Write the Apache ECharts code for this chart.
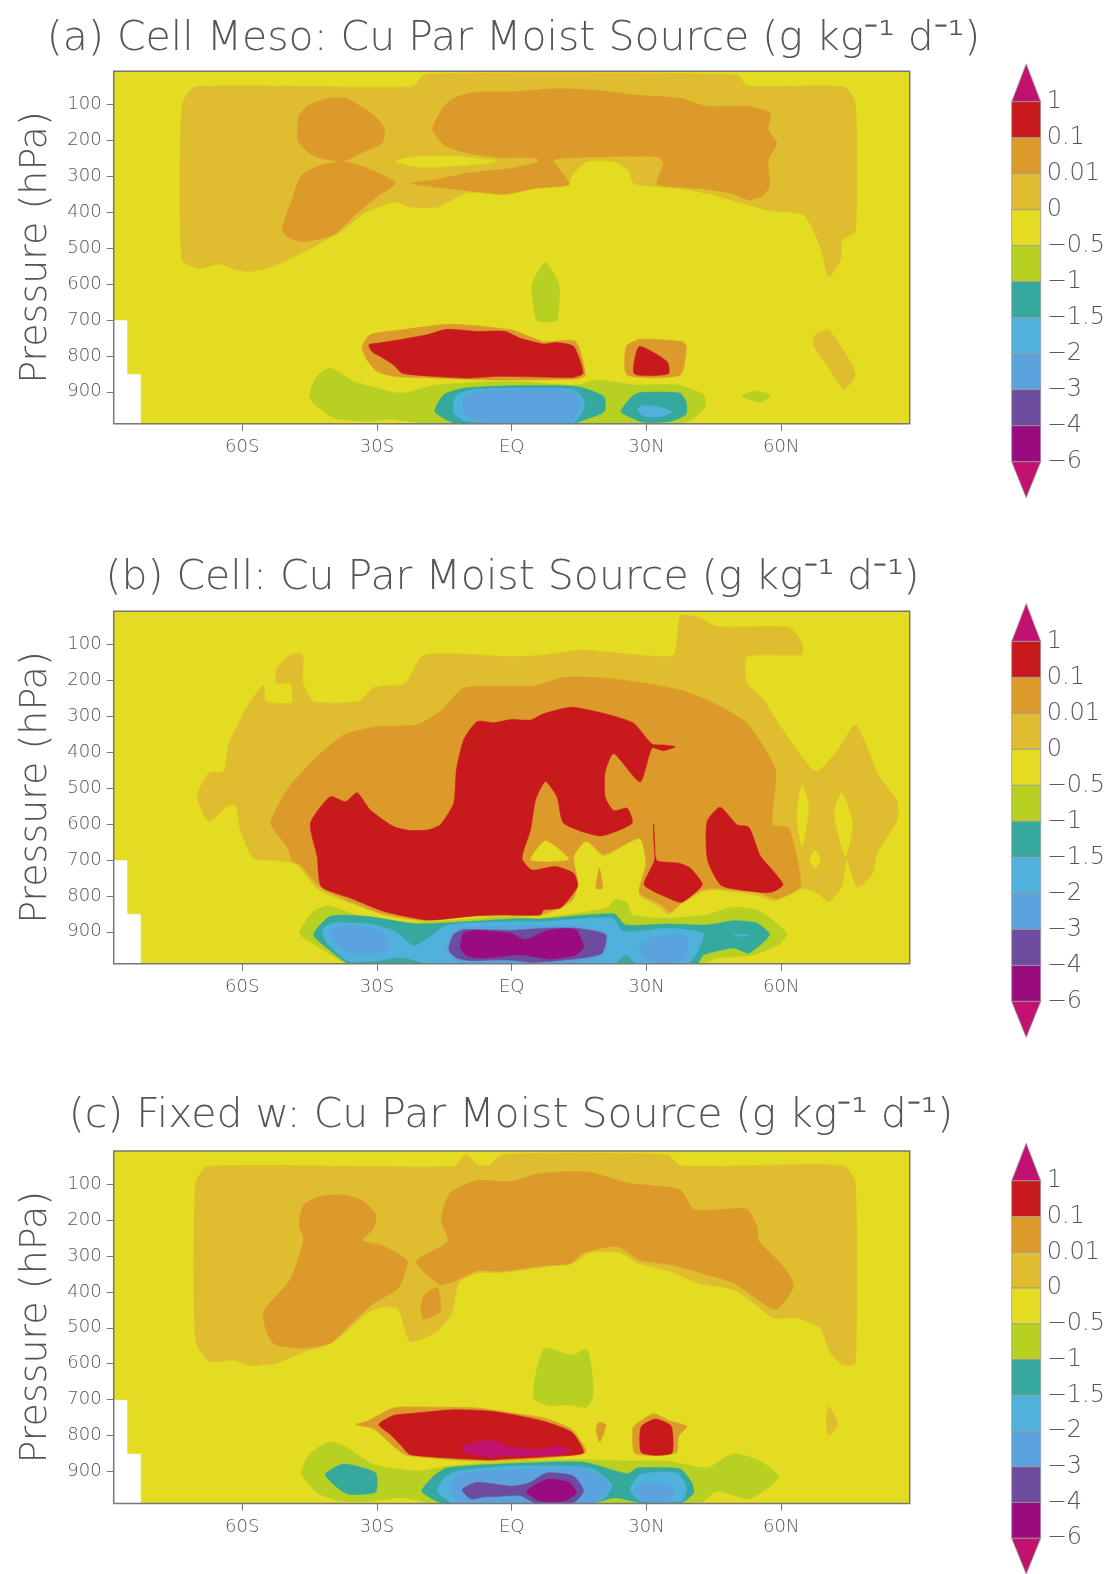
<!DOCTYPE html>
<html><head><meta charset="utf-8">
<style>html,body{margin:0;padding:0;background:#fff}#c{width:1112px;height:1574px;filter:blur(0.5px)}</style>
<script src="https://cdn.jsdelivr.net/npm/echarts@6/dist/echarts.min.js"></script>
</head><body><div id="c"></div>
<script>
// Colour classes, top to bottom of the colour bar
const levelColors = ['#c0126e','#c81a1c','#dc9a2a','#dfbd2e','#e3dc20','#b8d022','#35a99d','#4fb1dc','#5aa3de','#6d4c9f','#990b7e','#c0126e'];
const barLabels = ['1','0.1','0.01','0','\u22120.5','\u22121','\u22121.5','\u22122','\u22123','\u22124','\u22126'];
const latTicks = [-60,-30,0,30,60];
const latLabels = ['60S','30S','EQ','30N','60N'];
const presTicks = [100,200,300,400,500,600,700,800,900];
const titles = ['(a) Cell Meso: Cu Par Moist Source (g kg\u207B\u00B9 d\u207B\u00B9)','(b) Cell: Cu Par Moist Source (g kg\u207B\u00B9 d\u207B\u00B9)','(c) Fixed w: Cu Par Moist Source (g kg\u207B\u00B9 d\u207B\u00B9)'];
const R=1,O=2,L=3,Y=4,G=5,T=6,S=7,B=8,P=9,D=10,H=0;
const domain = [[-88.6,8],[88.6,8],[88.6,989],[-82.5,989],[-82.5,850],[-85.5,850],[-85.5,700],[-88.6,700]];

// Panel (a): contour regions as [lat, hPa]
const a_light = [[-73.4,102],[-70.4,51],[-22.2,51],[-19.2,16],[50.2,18],[52.4,49],[73.9,51],[76.5,97],[76.5,454],[73.5,477],[73.2,533],[70.6,579],[68.7,496],[65,408],[56.8,394],[45,352],[37.5,334],[27.2,320],[26,283],[22.7,259],[16.8,259],[13.4,297],[12.7,324],[4.9,334],[-1.4,352],[-9.9,345],[-16.6,386],[-22.9,385],[-25.9,371],[-32.9,403],[-37.4,449],[-44.1,496],[-51.5,542],[-54.5,556],[-58.5,565],[-62.3,556],[-64.9,544],[-69.7,556],[-73.4,531]];
const a_sliver = [[-25.9,259],[-22.2,247],[-13.7,244],[-3.3,258],[-9.9,269],[-20.3,275]];
const a_lobe1 = [[-47.4,134],[-45.2,102],[-40.7,83],[-37,83],[-32.2,116],[-29.6,144],[-28.3,173],[-28.9,208],[-32.9,232],[-36.3,253],[-38.1,258],[-43.3,247],[-45.9,227],[-47.6,199]];
const a_lobe2 = [[-38.1,259],[-36.3,262],[-32.2,278],[-25.9,318],[-30,357],[-35.2,412],[-39.6,463],[-46.3,482],[-49.3,473],[-51.1,449],[-48.9,366],[-47,301],[-43.3,273]];
const a_upper = [[-17.6,167],[-15.1,106],[-12.9,83],[-8.5,67],[0,65],[8.6,57],[15.3,58],[22,65],[27.2,74],[37.5,83],[43.5,106],[52.4,105],[57.6,125],[57.1,171],[59,208],[57.1,255],[57.4,324],[56.1,352],[52.8,366],[48.7,347],[42,334],[32.4,322],[33.8,264],[32.4,246],[19.7,246],[9.3,255],[11.9,301],[12.7,324],[4.9,334],[-1.4,349],[-7.7,343],[-17.4,329],[-22.2,320],[-16.6,309],[-9.9,292],[0,278],[1.9,273],[6,259],[5.6,250],[-2.5,248],[-9.9,236],[-15.1,213]];
const a_halo = [[-33.3,774],[-31.5,741],[-24.8,728],[-13.7,712],[0,728],[7.1,760],[14.2,760],[16.4,853],[14.5,864],[-2.5,867],[-17.4,862],[-26.3,857],[-30,843],[-32.2,811]];
const a_red = [[-31.8,769],[-30,765],[-24.8,755],[-22.2,749],[-18.8,741],[-14.4,726],[-7.7,732],[-1.4,732],[1.9,751],[7.1,767],[10.1,763],[13.8,774],[15.9,848],[13.4,860],[-2.5,857],[-9.9,862],[-17.4,857],[-24.4,848],[-26.3,825],[-29.2,802],[-31.1,788]];
const a_halo30 = [[25.5,774],[28.6,754],[37.9,760],[38.9,774],[37.5,853],[25.7,853]];
const a_red30 = [[28.4,774],[34.6,816],[34.9,850],[27.3,850]];
const a_green = [[-45,908],[-43.3,857],[-40.4,834],[-35.2,871],[-24.8,904],[-16.6,881],[0,871],[14.5,881],[19,867],[27.2,881],[36.8,881],[42.7,908],[43.1,941],[40.5,973],[37.5,989],[-18.1,989],[-27,976],[-32.2,982],[-39.6,973],[-44.1,932]];
const a_teal = [[-17.1,955],[-15.1,908],[-10.7,890],[0,883],[14.5,885],[20.5,913],[20.6,955],[15.3,982],[13.8,989],[-12.2,989]];
const a_sky = [[-12.9,932],[-12.2,908],[-8.5,894],[0,890],[13.8,894],[16,922],[16,950],[13.4,989],[-10.3,982],[-12.9,959]];
const a_blue = [[-10.7,922],[-9.9,908],[-7.7,899],[0,895],[13.1,896],[15.3,927],[15.3,945],[12.7,985],[-7.7,985],[-10.7,955]];
const a_teal30 = [[24.3,955],[26.8,913],[28.6,902],[37.5,904],[38.9,932],[38.7,964],[35.3,982],[29.4,985],[26.8,973]];
const a_sky30 = [[27.9,950],[29.4,938],[33.1,943],[35.7,957],[33.1,969],[29.4,967]];
const a_green60 = [[51.3,911],[54.2,897],[57.6,911],[55.3,930]];
const a_greenMid = [[7.5,540],[10.5,602],[10.1,700],[7.5,706],[5.5,700],[4.5,602]];
const a_lightNE = [[67.6,741],[70.6,728],[76.5,848],[73.9,893],[70.6,834],[67.1,769]];

// Panel (b)
const b_light = [[-70,524],[-67.4,457],[-64.1,454],[-63,375],[-61.1,329],[-58.9,273],[-55.2,213],[-54.8,258],[-48.9,262],[-49.3,208],[-52.3,208],[-52.3,167],[-48.9,128],[-46.5,128],[-46.5,205],[-44.1,259],[-34.1,259],[-30.7,220],[-23.7,208],[-19.6,130],[0,134],[7.1,130],[15.3,116],[28.6,130],[36.1,130],[37.5,21],[41.3,23],[45.7,51],[61.7,53],[64.6,97],[64.6,128],[52.4,134],[52.4,208],[56.1,255],[59.1,315],[67.6,454],[72.4,398],[76.5,324],[79.8,408],[81.3,457],[85.8,538],[85.8,589],[81.3,681],[80.2,741],[76.9,776],[74.6,700],[73.5,774],[70.6,816],[68,792],[64.3,779],[58.7,813],[53.9,797],[45,783],[42.7,788],[38.3,818],[34.9,851],[32.7,830],[28.3,794],[29.8,709],[28.5,637],[20.5,689],[16.6,644],[13.6,691],[14.5,769],[13.4,816],[7.1,853],[-2.5,857],[-10.7,857],[-18.8,871],[-28.5,853],[-35.9,820],[-43,783],[-47.8,714],[-51.5,702],[-57.4,695],[-60.4,616],[-61.5,547],[-63.4,551],[-67.4,593]];
const b_hole1 = [[64.6,491],[66.1,551],[64.6,663],[63.5,579]];
const b_hole2 = [[73.5,514],[75.9,598],[74.3,690],[71.8,570]];
const b_hole3 = [[67.6,672],[68.7,700],[67.6,723],[66.3,700]];
const b_orange = [[-53.6,598],[-50,505],[-44.1,422],[-37.4,352],[-30,329],[-21.1,324],[-15.9,287],[-10.7,222],[0,216],[4.9,216],[11.6,192],[22,195],[37.5,227],[45,264],[52.4,320],[58.7,449],[58,602],[61.7,612],[64.3,774],[59,808],[55,791],[45,779],[42.7,781],[37.9,816],[35.3,846],[33.1,822],[28.5,791],[30,709],[28.5,640],[20.5,684],[16.6,647],[13.8,691],[14.7,765],[13.4,811],[7.1,848],[-10.7,855],[-18.8,868],[-28.5,850],[-35.9,816],[-42.6,776],[-47,714],[-48.9,700],[-50,663]];
const b_dot = [[19.5,723],[20.2,779],[18.8,779]];
const b_gap = [[7.5,647],[12.7,698],[4.3,700]];
const b_red = [[-44.8,598],[-40.4,524],[-37,538],[-34.4,513],[-31.5,561],[-26.3,607],[-22.6,618],[-18.5,616],[-15.9,602],[-12.9,542],[-12.3,449],[-10.7,366],[-7.7,315],[-4,318],[0,309],[4.2,311],[7.1,293],[13.4,275],[22,297],[27.2,320],[31.2,377],[33.8,380],[36.4,385],[33.8,396],[31.2,389],[28.6,483],[22.7,404],[20.8,455],[20.8,525],[22.7,563],[25.7,556],[26.8,598],[19.7,633],[11.6,598],[10.1,525],[7.5,482],[5.3,533],[4.2,616],[2.3,695],[4.5,728],[9.7,718],[13.8,737],[14.7,772],[13.4,798],[10.8,834],[7.1,839],[6.4,853],[-2.5,853],[-7.7,855],[-18.8,867],[-28.5,843],[-35.9,806],[-42.4,774],[-43.3,690]];
const b_red30 = [[31.6,599],[32.2,700],[37.2,709],[39.8,723],[42.4,769],[37.9,818],[34.9,806],[29.5,769],[31.8,700]];
const b_red50 = [[46.4,553],[50.2,602],[52.8,609],[55.4,690],[58.3,732],[60.4,769],[58.3,788],[56.1,791],[46.8,772],[43.6,700],[43.5,593]];
const b_green = [[-47.2,904],[-44.1,843],[-40.7,828],[-33.7,857],[-21.1,874],[0,857],[6.4,862],[21.2,834],[23.1,809],[25.7,820],[26.8,853],[34.6,862],[43.5,853],[49.4,831],[55.3,843],[61.2,904],[59.8,932],[53.9,964],[45.7,973],[41.9,989],[-36.3,989],[-42.6,945]];
const b_teal = [[-44.1,908],[-40.4,857],[-32.2,857],[-21.1,878],[0,864],[6.4,864],[22.8,850],[25.3,881],[34.6,878],[43.5,881],[49.4,869],[54.6,876],[57.4,908],[52.8,959],[49.4,945],[42.7,964],[41.2,989],[-35.9,989],[-41.1,945]];
const b_sky = [[-42.2,894],[-40,876],[-31.4,878],[-25.9,899],[-21.8,939],[-18.1,913],[-14.4,881],[0,871],[6.4,872],[22.3,862],[24.9,899],[34.6,890],[42.7,904],[41.2,959],[39,989],[27.9,989],[25.3,964],[22.7,989],[-18.1,989],[-24.8,971],[-30.7,982],[-36.3,982],[-41.1,932]];
const b_skyE = [[49.4,910],[51.3,906],[53.1,910],[51.3,912]];
const b_blueW = [[-40.4,904],[-37.4,883],[-30.7,890],[-28,913],[-27.8,950],[-32.3,964],[-37.4,950]];
const b_blueE = [[28.3,950],[30.9,918],[38.3,908],[39.4,941],[37.5,982],[30.9,982]];
const b_blueC = [[-14.8,950],[-13.3,904],[-10.7,888],[14.2,884],[21.2,904],[20.6,964],[16,982],[12.3,989],[-9.9,989],[-12.9,976]];
const b_purple = [[-14,950],[-12.9,908],[-10.7,894],[0,896],[7.5,890],[14.2,890],[20.9,908],[20.1,959],[15.7,973],[4.9,985],[-1,978],[-9.2,980],[-12.2,973]];
const b_dark = [[-11.4,945],[-10.7,904],[-7.7,896],[0,904],[0.4,908],[3,922],[6.4,904],[8.6,894],[14.2,894],[16,941],[14.4,964],[8.6,976],[2,964],[-6.2,973],[-9.9,967]];

// Panel (c)
const c_light = [[-70.4,102],[-67.8,51],[-12.9,51],[-10.3,18],[-7.7,46],[-5.1,49],[-2.2,18],[34.6,18],[37.5,49],[73.9,49],[76.5,97],[76.5,598],[73.9,605],[71,570],[68.7,500],[63.5,473],[58.3,473],[53.9,431],[49.4,394],[41.3,375],[35.3,343],[27.9,320],[25.7,301],[22.7,287],[17.1,292],[14.5,315],[7.1,331],[-2.5,347],[-7.7,347],[-11.8,375],[-13.3,459],[-16.6,510],[-22.6,538],[-25.2,449],[-28.5,440],[-32.2,459],[-39.6,538],[-47,570],[-52.2,598],[-58.5,605],[-61.9,590],[-67.4,593],[-70.4,533]];
const c_west = [[-47.2,195],[-46.3,158],[-42.6,134],[-37.4,130],[-33,148],[-30.3,185],[-30.7,222],[-33.3,257],[-28.5,273],[-23.3,315],[-25.2,389],[-30.7,431],[-35.2,482],[-40.3,542],[-46.3,556],[-52.6,547],[-54.5,514],[-55.2,454],[-49.3,366],[-46.3,255],[-47.2,222]];
const c_main = [[-21.2,315],[-14.2,259],[-15.7,199],[-13.7,125],[-7.7,90],[0,93],[4.9,74],[12.3,65],[17.5,67],[25.7,97],[37.5,116],[40.5,171],[46.4,171],[52.4,170],[54.6,220],[55,259],[59.8,320],[62.8,382],[58.7,449],[49.4,375],[42,347],[35.3,324],[28.6,312],[23.4,273],[15.7,292],[13.1,322],[7.1,327],[-2.5,343],[-7.7,341],[-12.9,371],[-16,380]];
const c_spot = [[-19.2,405],[-16.5,389],[-15.9,454],[-19.6,475],[-20.2,440]];
const c_spot2 = [[19.4,763],[21,770],[19.6,818],[18.8,783]];
const c_spot3 = [[70.6,718],[72.6,769],[70.6,800],[70,763]];
const c_halo = [[-34.6,769],[-32.2,760],[-26.3,723],[-17.4,721],[-7.7,723],[0,737],[7.1,751],[13.4,783],[16.4,848],[-6.2,871],[-23.3,855],[-26.3,830],[-30.7,781]];
const c_red = [[-29.6,769],[-26.3,744],[-21.1,737],[-12.9,728],[-4.7,732],[0,741],[7.1,760],[13.4,791],[16,848],[10.1,857],[-2.5,866],[-4.7,868],[-22.6,853],[-24.8,825],[-27,797]];
const c_magenta = [[-11.1,843],[-10.3,825],[-4.4,814],[0,834],[7.1,839],[9.7,830],[13.4,843],[10,853],[-2.5,857],[-4.4,862]];
const c_halo30 = [[27,779],[28.6,760],[31.6,739],[35.3,760],[39,774],[37.1,802],[36.6,848],[27.5,850]];
const c_red30 = [[28.8,776],[32,754],[35.5,774],[35.7,848],[32,855],[28.8,846]];
const c_greenMid = [[7.5,556],[13.4,577],[16.6,559],[17.7,607],[18.1,691],[16.6,721],[12.4,714],[8.6,716],[4.9,698],[5.6,616]];
const c_green = [[-46.9,904],[-45.1,853],[-40.7,818],[-36.7,834],[-30.7,881],[-20.3,899],[-15.1,887],[0,871],[16,867],[25.7,871],[34.6,871],[43.5,890],[49.4,850],[55.3,871],[59.4,913],[57.5,941],[52.8,976],[45.7,955],[42.7,982],[41.2,989],[-16.6,989],[-24.8,973],[-30.7,982],[-38.1,982],[-43.3,959],[-45.9,923]];
const c_tealW = [[-41.5,908],[-37.4,879],[-30.3,904],[-30.3,957],[-35.9,964],[-38.1,952]];
const c_teal = [[-20,955],[-17.4,913],[-14.4,890],[0,878],[16,874],[25.7,906],[28,890],[37.5,893],[40.1,932],[40.5,960],[37.5,989],[29.4,989],[23.1,973],[17.5,989],[-15.1,989]];
const c_sky = [[-16.6,955],[-15.1,918],[-12.2,899],[0,885],[17.5,890],[22.3,936],[20.8,973],[17.5,989],[-12.9,989]];
const c_blue = [[-13.3,932],[-11.8,908],[0,895],[16,890],[20.5,922],[21.6,945],[19,982],[16,989],[-11.1,989],[-13,969]];
const c_purple = [[-11,950],[-7.7,930],[0,941],[3.8,932],[7.9,904],[13.8,913],[16,955],[13.4,989],[5.6,989],[1.9,967],[-2.5,969],[-6.2,971],[-9.2,976]];
const c_dark = [[3.3,955],[7.9,922],[12.7,930],[14.4,959],[11.6,982],[6.4,982]];
const c_sky30 = [[26.4,950],[28.6,908],[36.8,904],[38.9,945],[37.9,982],[28.6,982]];
const c_blue30 = [[27.5,950],[30.1,932],[34.6,936],[36.1,955],[34.6,982],[29.4,982]];

// Paint order per panel: [colour class, region]
const panelA = [[Y,domain],[L,a_light],[Y,a_sliver],[O,a_lobe1],[O,a_lobe2],[O,a_upper],[L,a_lightNE],[G,a_greenMid],[O,a_halo],[R,a_red],[O,a_halo30],[R,a_red30],[G,a_green],[T,a_teal],[S,a_sky],[B,a_blue],[T,a_teal30],[S,a_sky30],[G,a_green60]];
const panelB = [[Y,domain],[L,b_light],[Y,b_hole1],[Y,b_hole2],[Y,b_hole3],[O,b_orange],[O,b_dot],[Y,b_gap],[R,b_red],[R,b_red30],[R,b_red50],[G,b_green],[T,b_teal],[S,b_sky],[S,b_skyE],[B,b_blueW],[B,b_blueE],[B,b_blueC],[P,b_purple],[D,b_dark]];
const panelC = [[Y,domain],[L,c_light],[O,c_west],[O,c_main],[O,c_spot],[O,c_spot2],[L,c_spot3],[O,c_halo],[R,c_red],[H,c_magenta],[O,c_halo30],[R,c_red30],[G,c_greenMid],[G,c_green],[T,c_tealW],[T,c_teal],[S,c_sky],[B,c_blue],[P,c_purple],[D,c_dark],[S,c_sky30],[B,c_blue30]];

const panels = [panelA,panelB,panelC];
const gridTops = [71.3,611.3,1151];
const barTops = [65.7,605.4,1145.1];
const titleY = [14,553,1091];
const titleX = [508.5,507.5,506];
const FONT = '"DejaVu Sans"', TXT = '#555', AX = '#777';

const opt = {animation:false,backgroundColor:'#fff',title:[],grid:[],xAxis:[],yAxis:[],series:[]};
panels.forEach((regions,k)=>{
  opt.title.push({text:titles[k],left:titleX[k],top:titleY[k],textAlign:'center',
    textStyle:{fontFamily:FONT,fontWeight:200,fontSize:41,color:TXT}});
  opt.grid.push({left:113.7,width:796,top:gridTops[k],height:352.5});
  opt.xAxis.push({gridIndex:k,type:'value',min:-88.6,max:88.6,splitLine:{show:false},z:6,
    axisLine:{show:false,onZero:false},
    axisTick:{show:true,length:7,customValues:latTicks,lineStyle:{color:AX}},
    axisLabel:{show:true,customValues:latTicks,margin:15,fontFamily:FONT,fontWeight:200,fontSize:18,color:TXT,
      formatter:v=>latLabels[latTicks.indexOf(v)]}});
  opt.yAxis.push({gridIndex:k,type:'value',inverse:true,min:8,max:989,splitLine:{show:false},z:6,
    name:'Pressure (hPa)',nameLocation:'middle',nameRotate:90,nameGap:59,
    nameTextStyle:{fontFamily:FONT,fontWeight:200,fontSize:38,color:TXT},
    axisLine:{show:false,onZero:false},
    axisTick:{show:true,length:7,customValues:presTicks,lineStyle:{color:AX}},
    axisLabel:{show:true,customValues:presTicks,margin:12,fontFamily:FONT,fontWeight:200,fontSize:18,color:TXT,
      formatter:v=>String(v)}});
  opt.series.push({type:'custom',xAxisIndex:k,yAxisIndex:k,coordinateSystem:'cartesian2d',clip:true,silent:true,
    data:regions.map((r,i)=>[r[1][0][0],r[1][0][1],i]),
    renderItem:(params,api)=>{
      const r=regions[api.value(2)];
      const c=levelColors[r[0]];
      return {type:'polygon',shape:{points:r[1].map(q=>api.coord(q)),smooth:r[1]===domain?0:0.2},style:{fill:c,stroke:c,lineWidth:0.6}};
    }});
  // plot frame
  opt.series.push({type:'custom',xAxisIndex:k,yAxisIndex:k,clip:false,silent:true,z:8,data:[[-88.6,8,88.6,989]],
    renderItem:(params,api)=>{
      const a=api.coord([api.value(0),api.value(1)]),b=api.coord([api.value(2),api.value(3)]);
      return {type:'rect',shape:{x:a[0],y:a[1],width:b[0]-a[0],height:b[1]-a[1]},style:{fill:'none',stroke:AX,lineWidth:1.5}};
    }});
  // colour bar
  const g=k+3;
  opt.grid.push({left:1011.7,width:29,top:barTops[k],height:432});
  opt.xAxis.push({gridIndex:g,type:'value',min:0,max:1,show:false});
  opt.yAxis.push({gridIndex:g,type:'value',inverse:true,position:'right',min:0,max:12,splitLine:{show:false},
    axisLine:{show:false},axisTick:{show:false},
    axisLabel:{show:true,customValues:barLabels.map((_,i)=>i+1),margin:6,align:'left',padding:[9,0,0,0],fontFamily:FONT,fontWeight:200,fontSize:24,color:TXT,
      formatter:v=>barLabels[v-1]}});
  opt.series.push({type:'custom',xAxisIndex:g,yAxisIndex:g,clip:false,silent:true,
    data:levelColors.map((c,i)=>[0.5,i]),
    renderItem:(params,api)=>{
      const i=api.value(1),c=levelColors[i];
      let pts;
      if(i===0) pts=[[0,1],[0.5,-0.05],[1,1]];
      else if(i===levelColors.length-1) pts=[[0,11],[1,11],[0.5,12]];
      else pts=[[0,i],[1,i],[1,i+1],[0,i+1]];
      return {type:'polygon',shape:{points:pts.map(q=>api.coord(q))},style:{fill:c,stroke:'#9a9a9a',lineWidth:0.8}};
    }});
});
// grid indices must be ordered: plots 0-2 then bars 3-5
const gs=opt.grid, order=[0,2,4,1,3,5];
opt.grid=order.map(i=>gs[i]);
const xs=opt.xAxis, ys=opt.yAxis;
opt.xAxis=order.map(i=>xs[i]); opt.yAxis=order.map(i=>ys[i]);
echarts.init(document.getElementById('c'),null,{renderer:'canvas'}).setOption(opt);
</script></body></html>
